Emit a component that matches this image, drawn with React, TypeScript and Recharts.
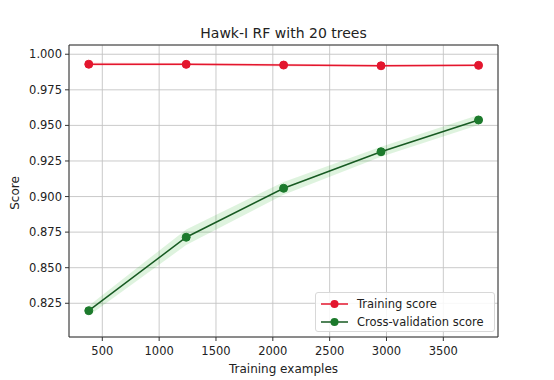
import React from "react";
import {
  ComposedChart,
  Line,
  Area,
  XAxis,
  YAxis,
  CartesianGrid,
  ReferenceArea,
} from "recharts";

const trainSizes = [381, 1238, 2095, 2952, 3810];
const trainMean = [0.993, 0.9929, 0.9924, 0.9919, 0.9922];
const trainStd = [0.0012, 0.001, 0.001, 0.0009, 0.0008];
const cvMean = [0.8198, 0.8714, 0.9058, 0.9315, 0.9538];
const cvStd = [0.0035, 0.0055, 0.0045, 0.0035, 0.0035];
const xTicks = [500, 1000, 1500, 2000, 2500, 3000, 3500];
const yTicks = [0.825, 0.85, 0.875, 0.9, 0.925, 0.95, 0.975, 1.0];
const title = "Hawk-I RF with 20 trees";
const xLabel = "Training examples";
const yLabel = "Score";
const seriesNames = ["Training score", "Cross-validation score"];

const RED = "#e3162e";
const GREEN = "#1c7a2c";

const data = trainSizes.map((x, i) => ({
  x,
  train: trainMean[i],
  cv: cvMean[i],
  trainBand: [trainMean[i] - trainStd[i], trainMean[i] + trainStd[i]],
  cvBand: [cvMean[i] - cvStd[i], cvMean[i] + cvStd[i]],
}));

const FONT = "'DejaVu Sans', sans-serif";
const X_MIN = 207;
const X_MAX = 3981;
const Y_MIN = 0.8013;
const Y_MAX = 1.0065;

export default function App() {
  return (
    <div
      style={{
        position: "absolute",
        left: 0,
        top: 0,
        width: 554,
        height: 380,
        background: "#fff",
        fontFamily: FONT,
      }}
    >
      <ComposedChart
        width={554}
        height={380}
        data={data}
        margin={{ top: 45, right: 56, bottom: 0, left: 0 }}
      >
        <CartesianGrid stroke="#c4c4c4" strokeWidth={0.9} />
        <XAxis
          dataKey="x"
          type="number"
          domain={[X_MIN, X_MAX]}
          ticks={xTicks}
          allowDataOverflow
          height={43}
          tickSize={4}
          tickMargin={6}
          axisLine={false}
          tickLine={{ stroke: "#333" }}
          tick={{ fill: "#222", fontSize: 11.5, fontFamily: FONT }}
        />
        <YAxis
          type="number"
          domain={[Y_MIN, Y_MAX]}
          ticks={yTicks}
          allowDataOverflow
          width={69}
          tickSize={4}
          tickMargin={3}
          axisLine={false}
          tickLine={{ stroke: "#333" }}
          tickFormatter={(v: number) => v.toFixed(3)}
          tick={{ fill: "#222", fontSize: 11.5, fontFamily: FONT }}
        />
        <Area
          dataKey="trainBand"
          type="linear"
          stroke="none"
          fill="#ff0000"
          fillOpacity={0.12}
          isAnimationActive={false}
          activeDot={false}
        />
        <Area
          dataKey="cvBand"
          type="linear"
          stroke="none"
          fill="#00a000"
          fillOpacity={0.13}
          isAnimationActive={false}
          activeDot={false}
        />
        <Line
          dataKey="train"
          type="linear"
          stroke={RED}
          strokeWidth={1.5}
          dot={{ r: 4, fill: RED, stroke: RED, strokeWidth: 1 }}
          isAnimationActive={false}
          activeDot={false}
        />
        <Line
          dataKey="cv"
          type="linear"
          stroke="#175a22"
          strokeWidth={1.5}
          dot={{ r: 4, fill: GREEN, stroke: GREEN, strokeWidth: 1 }}
          isAnimationActive={false}
          activeDot={false}
        />
        <ReferenceArea
          x1={X_MIN}
          x2={X_MAX}
          y1={Y_MIN}
          y2={Y_MAX}
          fill="none"
          stroke="#333"
          strokeWidth={1}
          ifOverflow="visible"
        />
      </ComposedChart>
      <div
        style={{
          position: "absolute",
          left: 69,
          width: 429,
          top: 24,
          textAlign: "center",
          fontSize: 14,
          color: "#222",
          lineHeight: "18px",
        }}
      >
        {title}
      </div>
      <div
        style={{
          position: "absolute",
          left: 69,
          width: 429,
          top: 361,
          textAlign: "center",
          fontSize: 12,
          color: "#222",
          lineHeight: "16px",
        }}
      >
        {xLabel}
      </div>
      <div
        style={{
          position: "absolute",
          left: 15,
          top: 193,
          transform: "translate(-50%, -50%) rotate(-90deg)",
          fontSize: 12,
          color: "#222",
          lineHeight: "16px",
          whiteSpace: "nowrap",
        }}
      >
        {yLabel}
      </div>
      <div
        style={{
          position: "absolute",
          left: 315,
          top: 292,
          width: 180,
          height: 40,
          boxSizing: "border-box",
          background: "rgba(255,255,255,0.85)",
          border: "1px solid #d8d8d8",
          borderRadius: 3,
          fontSize: 11.5,
          color: "#222",
        }}
      >
        {seriesNames.map((name, i) => {
          const c = i === 0 ? RED : GREEN;
          return (
            <div
              key={name}
              style={{
                position: "absolute",
                left: 5,
                top: 3 + i * 18,
                height: 16,
                display: "flex",
                alignItems: "center",
                whiteSpace: "nowrap",
              }}
            >
              <svg width={28} height={10} style={{ marginRight: 8 }}>
                <line x1={0} y1={5} x2={27} y2={5} stroke={i === 0 ? RED : "#175a22"} strokeWidth={1.5} />
                <circle cx={13.5} cy={5} r={4} fill={c} />
              </svg>
              <span>{name}</span>
            </div>
          );
        })}
      </div>
    </div>
  );
}
